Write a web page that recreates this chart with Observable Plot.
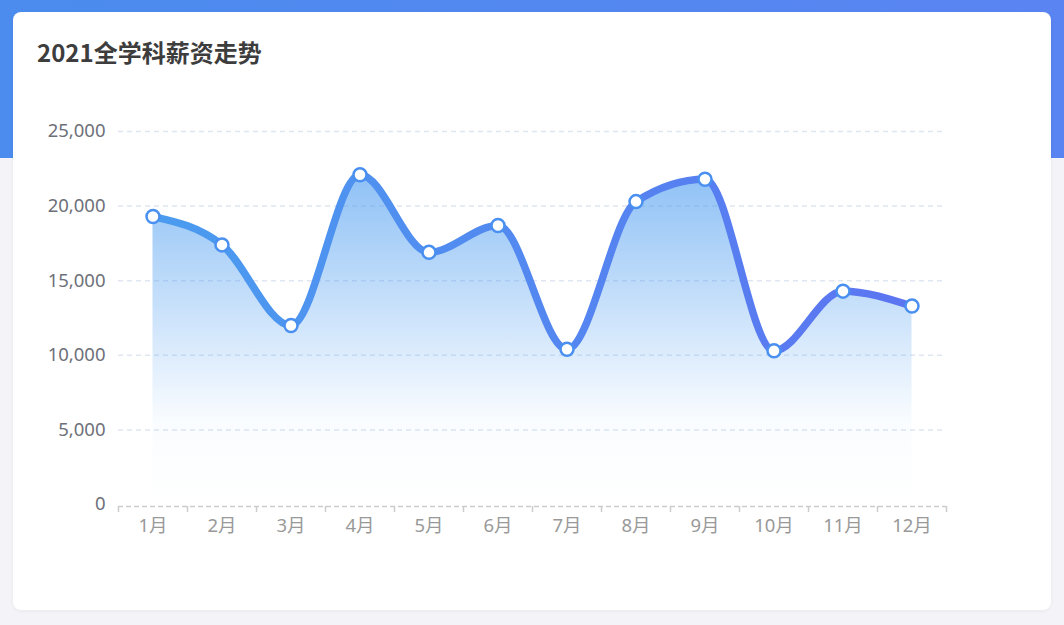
<!DOCTYPE html>
<html>
<head>
<meta charset="utf-8">
<script src="https://cdn.jsdelivr.net/npm/d3@7"></script>
<script src="https://cdn.jsdelivr.net/npm/@observablehq/plot@0.6"></script>
<style>
  html, body { margin: 0; padding: 0; }
  body { width: 1064px; height: 625px; background: #f3f3f8; position: relative; overflow: hidden;
         font-family: "Noto Sans CJK SC", "Noto Sans", sans-serif; }
  #band { position: absolute; left: 0; top: 0; width: 1064px; height: 158px;
          background: linear-gradient(90deg, #4b8cee, #5a84f2); }
  #card { position: absolute; left: 13px; top: 12px; width: 1038px; height: 598px; background: #fff;
          border-radius: 8px; box-shadow: 0 1px 4px rgba(0,0,0,0.05); }
  #title { position: absolute; left: 37px; top: 35px; font-size: 24px; font-weight: bold; color: #3d3d3d; line-height: 34px; }
  #chart { position: absolute; left: 0; top: 100px; }
  #chart svg text { font-size: 18.5px; }
</style>
</head>
<body>
<div id="band"></div>
<div id="card"></div>
<div id="title">2021全学科薪资走势</div>
<div id="chart"></div>
<script>
const months = ["1月","2月","3月","4月","5月","6月","7月","8月","9月","10月","11月","12月"];
const salaries = [19300, 17400, 12000, 22100, 16900, 18700, 10400, 20300, 21800, 10300, 14300, 13300];
const yTicks = [0, 5000, 10000, 15000, 20000, 25000];

const data = months.map((m, i) => ({i, month: m, v: salaries[i]}));

const defs = () => {
  const d = d3.create("svg:defs");
  const lg = d.append("linearGradient").attr("id", "lineGrad").attr("x1", 0).attr("y1", 0).attr("x2", 1).attr("y2", 0);
  lg.append("stop").attr("offset", "0%").attr("stop-color", "#4a9cef");
  lg.append("stop").attr("offset", "100%").attr("stop-color", "#5c74f1");
  const ag = d.append("linearGradient").attr("id", "areaGrad").attr("x1", 0).attr("y1", 0).attr("x2", 0).attr("y2", 1);
  ag.append("stop").attr("offset", "0%").attr("stop-color", "#4a9bf0").attr("stop-opacity", 0.62);
  ag.append("stop").attr("offset", "75%").attr("stop-color", "#4a9bf0").attr("stop-opacity", 0.03);
  ag.append("stop").attr("offset", "100%").attr("stop-color", "#4a9bf0").attr("stop-opacity", 0);
  return d.node();
};

const font = '"Noto Sans", "Noto Sans CJK SC", sans-serif';
const chart = Plot.plot({
  width: 1000,
  height: 460,
  marginLeft: 118,
  marginRight: 54,
  marginTop: 31,
  marginBottom: 56,
  style: { fontFamily: font, fontSize: "18.5px", background: "transparent", overflow: "visible" },
  x: { domain: [-0.5, 11.5], axis: null },
  y: { domain: [0, 25000], axis: null },
  marks: [
    defs,
    Plot.ruleY(yTicks.filter(t => t > 0), { stroke: "#e0e6f1", strokeWidth: 1.5, strokeDasharray: "5,4" }),
    Plot.axisY(yTicks, { tickSize: 0, tickPadding: 13, tickFormat: d3.format(","), fill: "#6e7079", label: null }),
    Plot.ruleY([0], { stroke: "#cccccc", strokeWidth: 1.5, strokeDasharray: "5,3", dy: 2 }),
    Plot.axisX(d3.range(13).map(i => i - 0.5), { tickSize: 6, stroke: "#cccccc", strokeWidth: 1.5, tickFormat: () => "", dy: 2, label: null }),
    Plot.axisX(d3.range(12), { tickSize: 0, tickPadding: 14, tickFormat: i => months[i], fill: "#999999", label: null }),
    Plot.areaY(data, { x: "i", y: "v", curve: "monotone-x", fill: "url(#areaGrad)" }),
    Plot.line(data, { x: "i", y: "v", curve: "monotone-x", stroke: "url(#lineGrad)", strokeWidth: 7.5 }),
    Plot.dot(data, { x: "i", y: "v", r: 6.5, fill: "white", stroke: "#4a90f0", strokeWidth: 2.5 })
  ]
});
document.getElementById("chart").appendChild(chart);
</script>
</body>
</html>
